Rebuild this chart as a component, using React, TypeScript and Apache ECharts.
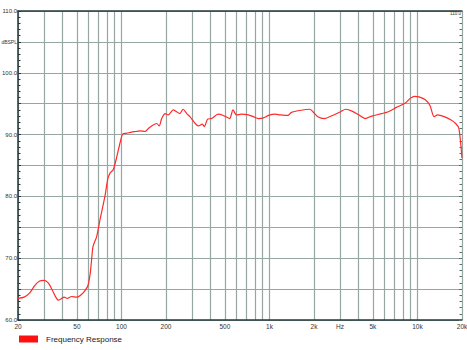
import React, { useEffect, useRef } from "react";
import * as echarts from "echarts";

const freqs = [20, 22, 24, 26, 28, 30, 32, 34, 36, 37.5, 39, 41, 43, 46, 50, 53, 56, 59, 60, 61.5, 62.6, 64.3, 68, 71.6, 77.3, 81, 84, 88, 93, 97.7, 102, 108, 117, 125, 133, 144, 152, 160, 173, 180, 187, 197, 207, 224, 236, 248, 261, 276, 290, 315, 331, 352, 363, 382, 406, 451, 487, 538, 567, 598, 646, 720, 778, 842, 910, 984, 1090, 1176, 1330, 1408, 1597, 1873, 1968, 2122, 2350, 2668, 3030, 3270, 3620, 4010, 4440, 4920, 5740, 6360, 7220, 8280, 8980, 9560, 10230, 11340, 12150, 12960, 13680, 15140, 16770, 18120, 19050, 20000];
const spl = [63.5, 63.7, 64.4, 65.6, 66.3, 66.4, 66.0, 64.9, 63.7, 63.2, 63.4, 63.7, 63.5, 63.8, 63.7, 64.0, 64.6, 65.4, 66.0, 67.5, 69.3, 71.9, 73.5, 76.2, 80.0, 82.9, 83.8, 84.3, 86.4, 88.6, 90.1, 90.2, 90.4, 90.5, 90.6, 90.5, 91.0, 91.4, 91.8, 91.4, 92.6, 93.4, 93.2, 94.0, 93.7, 93.4, 94.1, 93.4, 92.9, 91.8, 91.4, 91.7, 91.3, 92.5, 92.6, 93.3, 93.1, 92.6, 94.0, 93.2, 93.3, 93.2, 92.9, 92.6, 92.7, 93.1, 93.3, 93.2, 93.1, 93.6, 93.9, 94.1, 93.7, 92.9, 92.6, 93.1, 93.7, 94.1, 93.8, 93.2, 92.6, 93.0, 93.4, 93.7, 94.4, 95.1, 95.9, 96.2, 96.1, 95.6, 94.7, 92.9, 93.2, 92.9, 92.4, 91.8, 91.0, 86.2];

const gridFreqs = [20, 30, 40, 50, 60, 70, 80, 90, 100, 200, 300, 400, 500, 600, 700, 800, 900, 1000, 2000, 3000, 4000, 5000, 6000, 7000, 8000, 9000, 10000, 20000];
const labelFreqs = [20, 50, 100, 200, 500, 1000, 2000, 3000, 5000, 10000, 20000];
const labelTexts = ["20", "50", "100", "200", "500", "1k", "2k", "Hz", "5k", "10k", "20k"];

const GRID = "#96a7a3";
const AXIS = "#24393a";

export default function App() {
  const ref = useRef<HTMLDivElement>(null);
  useEffect(() => {
    if (!ref.current) return;
    const chart = echarts.init(ref.current, null, { renderer: "svg" });
    const labelMap: Record<string, string> = {};
    labelFreqs.forEach((f, i) => (labelMap[String(f)] = labelTexts[i]));
    chart.setOption({
      animation: false,
      backgroundColor: "#ffffff",
      grid: { left: 18, right: 5, top: 11, bottom: 30, containLabel: false, outerBoundsMode: "none" },
      legend: {
        left: 19,
        top: 335,
        padding: 0,
        itemWidth: 19,
        itemHeight: 7,
        icon: "rect",
        data: [{ name: "Frequency Response", itemStyle: { color: "#ff1010" } }],
        textStyle: { fontSize: 8, color: "#1a1a1a", fontFamily: "Liberation Sans, Arial", padding: [0, 0, 0, 3] },
      },
      xAxis: [
        {
          type: "log",
          logBase: 10,
          min: 20,
          max: 20000,
          axisLine: { show: true, lineStyle: { color: AXIS, width: 1.5 } },
          axisTick: { show: false, customValues: gridFreqs },
          axisLabel: {
            show: true,
            customValues: labelFreqs,
            fontSize: 6.5,
            color: "#333",
            margin: 3,
            fontFamily: "Liberation Sans, Arial",
            formatter: (v: number) => labelMap[String(Math.round(v))] ?? "",
          },
          splitLine: { show: true, lineStyle: { color: GRID, width: 1.2 } },
        },
        {
          type: "log",
          logBase: 10,
          min: 20,
          max: 20000,
          position: "top",
          axisLine: { show: true, lineStyle: { color: AXIS, width: 1.5 } },
          axisTick: { show: false },
          axisLabel: { show: false },
          splitLine: { show: false },
        },
      ],
      yAxis: [
        {
          type: "value",
          min: 60,
          max: 110,
          interval: 5,
          axisLine: { show: true, lineStyle: { color: AXIS, width: 1.5 } },
          axisTick: { show: true, inside: true, length: 3, lineStyle: { color: AXIS } },
          minorTick: { show: true, splitNumber: 5, length: 2.5, lineStyle: { color: AXIS } },
          axisLabel: {
            fontSize: 6,
            color: "#333",
            margin: 1,
            fontFamily: "Liberation Sans, Arial",
            formatter: (v: number) => (v === 105 ? "{s|dBSPL}" : v % 10 === 0 ? v.toFixed(1) : ""),
            rich: { s: { fontSize: 5, color: "#333", fontFamily: "Liberation Sans, Arial" } },
          },
          splitLine: { show: true, lineStyle: { color: GRID, width: 1.2 } },
        },
        {
          type: "value",
          min: 60,
          max: 110,
          interval: 5,
          position: "right",
          axisLine: { show: false },
          axisTick: { show: true, inside: true, length: 3, lineStyle: { color: "#5a6e6c" } },
          minorTick: { show: true, splitNumber: 5, length: 2.5, lineStyle: { color: "#5a6e6c" } },
          axisLabel: {
            show: true,
            inside: true,
            fontSize: 4.5,
            color: "#333",
            margin: 1,
            verticalAlign: "top",
            formatter: (v: number) => (v === 110 ? "110.0" : ""),
          },
          splitLine: { show: false },
        },
      ],
      series: [
        {
          name: "Frequency Response",
          type: "line",
          xAxisIndex: 0,
          yAxisIndex: 0,
          showSymbol: false,
          smooth: 0.25,
          data: freqs.map((f, i) => [f, spl[i]]),
          lineStyle: { color: "#ff2a2a", width: 1.2 },
          itemStyle: { color: "#ff1010" },
        },
      ],
    });
    return () => chart.dispose();
  }, []);
  return <div ref={ref} style={{ width: 467, height: 350, position: "absolute", left: 0, top: 0 }} />;
}
